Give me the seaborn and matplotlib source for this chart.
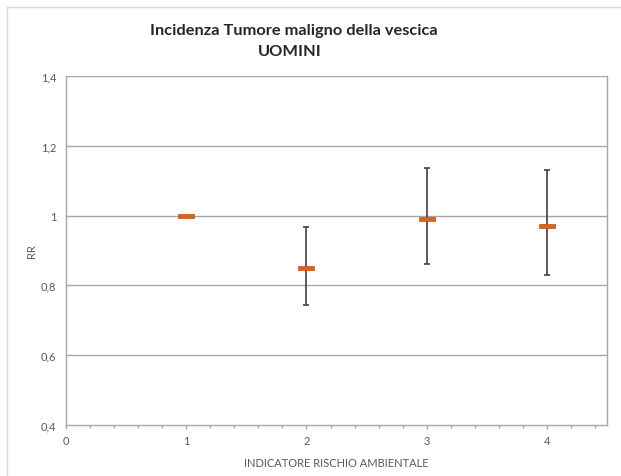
import matplotlib
matplotlib.use("Agg")
import matplotlib.pyplot as plt
from matplotlib.lines import Line2D
from matplotlib.ticker import MultipleLocator
import numpy as np
import pandas as pd
import seaborn as sns

# Relative risk by environmental risk indicator, with 95% CI
indicatore = [1, 2, 3, 4]
rr = [1.00, 0.85, 0.99, 0.97]
ci_low = [1.00, 0.744, 0.861, 0.83]
ci_high = [1.00, 0.967, 1.135, 1.131]

y_ticks = [0.4, 0.6, 0.8, 1.0, 1.2, 1.4]
y_ticklabels = ["0,4", "0,6", "0,8", "1", "1,2", "1,4"]
x_ticks = [0, 1, 2, 3, 4]

title_line1 = "Incidenza Tumore maligno della vescica"
title_line2 = "UOMINI"
x_label = "INDICATORE RISCHIO AMBIENTALE"
y_label = "RR"

sns.set_theme(style="white")
plt.rcParams["font.family"] = ["Lato", "DejaVu Sans"]

df = pd.DataFrame({"x": indicatore, "rr": rr, "lo": ci_low, "hi": ci_high})

fig = plt.figure(figsize=(6.21, 4.77), dpi=100)
ax = fig.add_axes([0.1063, 0.1069, 0.8712, 0.7317])

grid_col = "#A6A6A6"
text_col = "#595959"
for y in y_ticks[1:]:
    ax.axhline(y, color=grid_col, lw=1.0, zorder=0)

# confidence interval whiskers
has_ci = df["hi"] > df["lo"]
sub = df[has_ci]
ax.errorbar(sub["x"], sub["rr"],
            yerr=[sub["rr"] - sub["lo"], sub["hi"] - sub["rr"]],
            fmt="none", ecolor="#3F3F3F", elinewidth=1.2,
            capsize=2.5, capthick=1.2, zorder=2)

# point estimate as a short horizontal bar
bar_marker = [(-2, -0.5), (2, -0.5), (2, 0.5), (-2, 0.5), (-2, -0.5)]
sns.scatterplot(data=df, x="x", y="rr", ax=ax, marker=bar_marker,
                s=125, color="#D9621C", edgecolor="#C0540F",
                linewidth=0.5, zorder=3, legend=False)

ax.set_xlim(0, 4.5)
ax.set_ylim(0.4, 1.4)
ax.set_xticks(x_ticks)
ax.set_xticklabels([str(t) for t in x_ticks])
ax.xaxis.set_minor_locator(MultipleLocator(0.2))
ax.set_yticks(y_ticks)
ax.set_yticklabels(y_ticklabels)

ax.tick_params(axis="x", which="major", direction="out", length=3,
               width=1, color=grid_col, labelsize=8, labelcolor=text_col,
               bottom=True, pad=4)
ax.tick_params(axis="x", which="minor", direction="out", length=2,
               width=1, color=grid_col, bottom=True)
ax.tick_params(axis="y", length=0, labelsize=8, labelcolor=text_col, pad=7)

for side in ["left", "bottom", "right"]:
    ax.spines[side].set_visible(True)
    ax.spines[side].set_color(grid_col)
    ax.spines[side].set_linewidth(1.0)
ax.spines["top"].set_visible(False)

ax.set_xlabel(x_label, fontsize=8, color=text_col, labelpad=8)
ax.set_ylabel(y_label, fontsize=8, color=text_col, labelpad=3)

fig.text(294 / 621, 1 - 31 / 477, title_line1, ha="center", va="center",
         fontsize=11.8, fontweight="bold", color="#262626")
fig.text(290 / 621, 1 - 52 / 477, title_line2, ha="center", va="center",
         fontsize=11.8, fontweight="bold", color="#262626")

# chart area border
border = "#D9D9D9"
fig.add_artist(Line2D([7 / 621, 7 / 621], [0, 1 - 8 / 477], color=border,
                      lw=1.0, transform=fig.transFigure))
fig.add_artist(Line2D([7 / 621, 1], [1 - 8 / 477, 1 - 8 / 477], color=border,
                      lw=1.0, transform=fig.transFigure))

fig.savefig("out.png", dpi=100)
